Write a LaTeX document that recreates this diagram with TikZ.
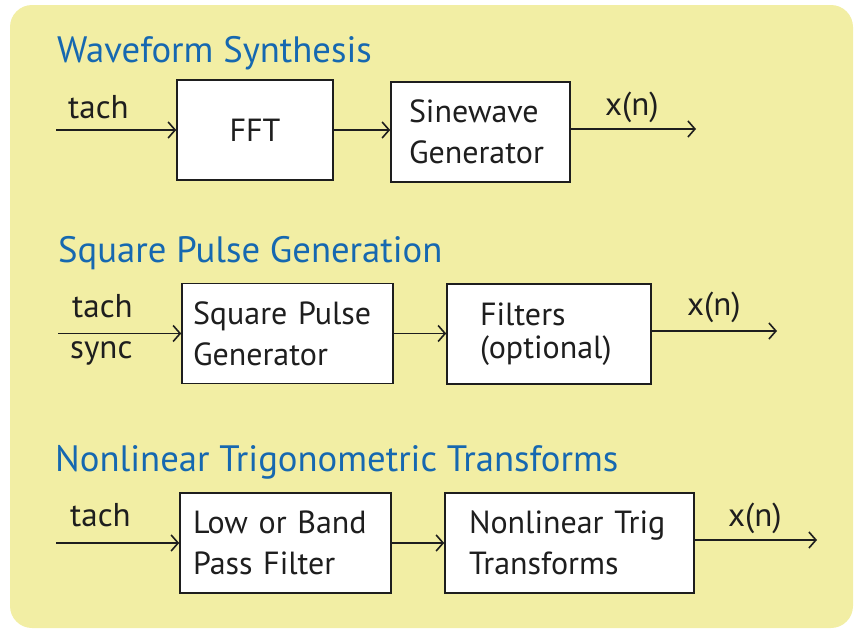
\documentclass[tikz,border=0pt]{standalone}
\usepackage{fontspec}
\setmainfont{PT Sans}
\usetikzlibrary{arrows.meta}
\definecolor{bgyellow}{RGB}{242,238,164}
\definecolor{titleblue}{RGB}{22,104,176}
\definecolor{ink}{RGB}{30,30,30}
\begin{document}
\begin{tikzpicture}[x=1pt,y=-1pt,
  title/.style={anchor=base west, text=titleblue, font=\fontsize{36.7}{40}\selectfont, inner sep=0pt},
  blk/.style={draw=ink, line width=1.6pt, fill=white, minimum height=100pt, font=\fontsize{32}{41}\selectfont, text=ink, align=left},
  lbl/.style={anchor=base west, font=\fontsize{33}{38}\selectfont, inner sep=0pt, text=ink},
  conn/.style={draw=ink, line width=1.6pt, -{Straight Barb[length=7pt,width=16pt]}}]
\useasboundingbox (0,0) rectangle (857,630);
\fill[bgyellow, rounded corners=22pt] (10,5) rectangle (853,628);

% Row 1
\node[title] (t1) at (57,62) {Waveform Synthesis};
\node[blk, align=center, minimum width=156pt] (fft) at (255,130) {FFT};
\node[blk, inner xsep=18pt, text width=143pt] (sine) at (480.5,132) {Sinewave\\Generator};
\coordinate (in1) at (56,130);
\coordinate (out1) at (696,129);
\draw[conn] (in1) -- (fft);
\draw[conn] (fft.east) -- (fft.east -| sine.west);
\draw[conn] (sine.east |- out1) -- (out1);
\node[lbl] (tach1) at (68,118) {tach};
\node[lbl] (xn1) at (605,115) {x(n)};

% Row 2
\node[title] (t2) at (58,262) {Square Pulse Generation};
\node[blk, inner xsep=11pt, text width=189pt] (spg) at (287.5,333.5) {Square Pulse\\Generator};
\node[blk, inner xsep=33pt, text width=138pt] (filt) at (549,334) {Filters\\[-8pt](optional)};
\coordinate (in2) at (58,333.5);
\coordinate (out2) at (777,331);
\draw[conn] (in2) -- (spg);
\draw[conn] (spg.east) -- (spg.east -| filt.west);
\draw[conn] (filt.east |- out2) -- (out2);
\node[lbl] (tach2) at (72,317) {tach};
\node[lbl] (sync2) at (70,358) {sync};
\node[lbl] (xn2) at (687,315) {x(n)};

% Row 3
\node[title] (t3) at (55,471) {Nonlinear Trigonometric Transforms};
\node[blk, inner xsep=13pt, text width=185pt] (lbp) at (285.5,543) {Low or Band\\Pass Filter};
\node[blk, inner xsep=24pt, text width=201pt] (ntt) at (569.5,543) {Nonlinear Trig\\Transforms};
\coordinate (in3) at (56,543);
\coordinate (out3) at (817,540);
\draw[conn] (in3) -- (lbp);
\draw[conn] (lbp.east) -- (lbp.east -| ntt.west);
\draw[conn] (ntt.east |- out3) -- (out3);
\node[lbl] (tach3) at (70,526) {tach};
\node[lbl] (xn3) at (728,526) {x(n)};
\end{tikzpicture}
\end{document}
